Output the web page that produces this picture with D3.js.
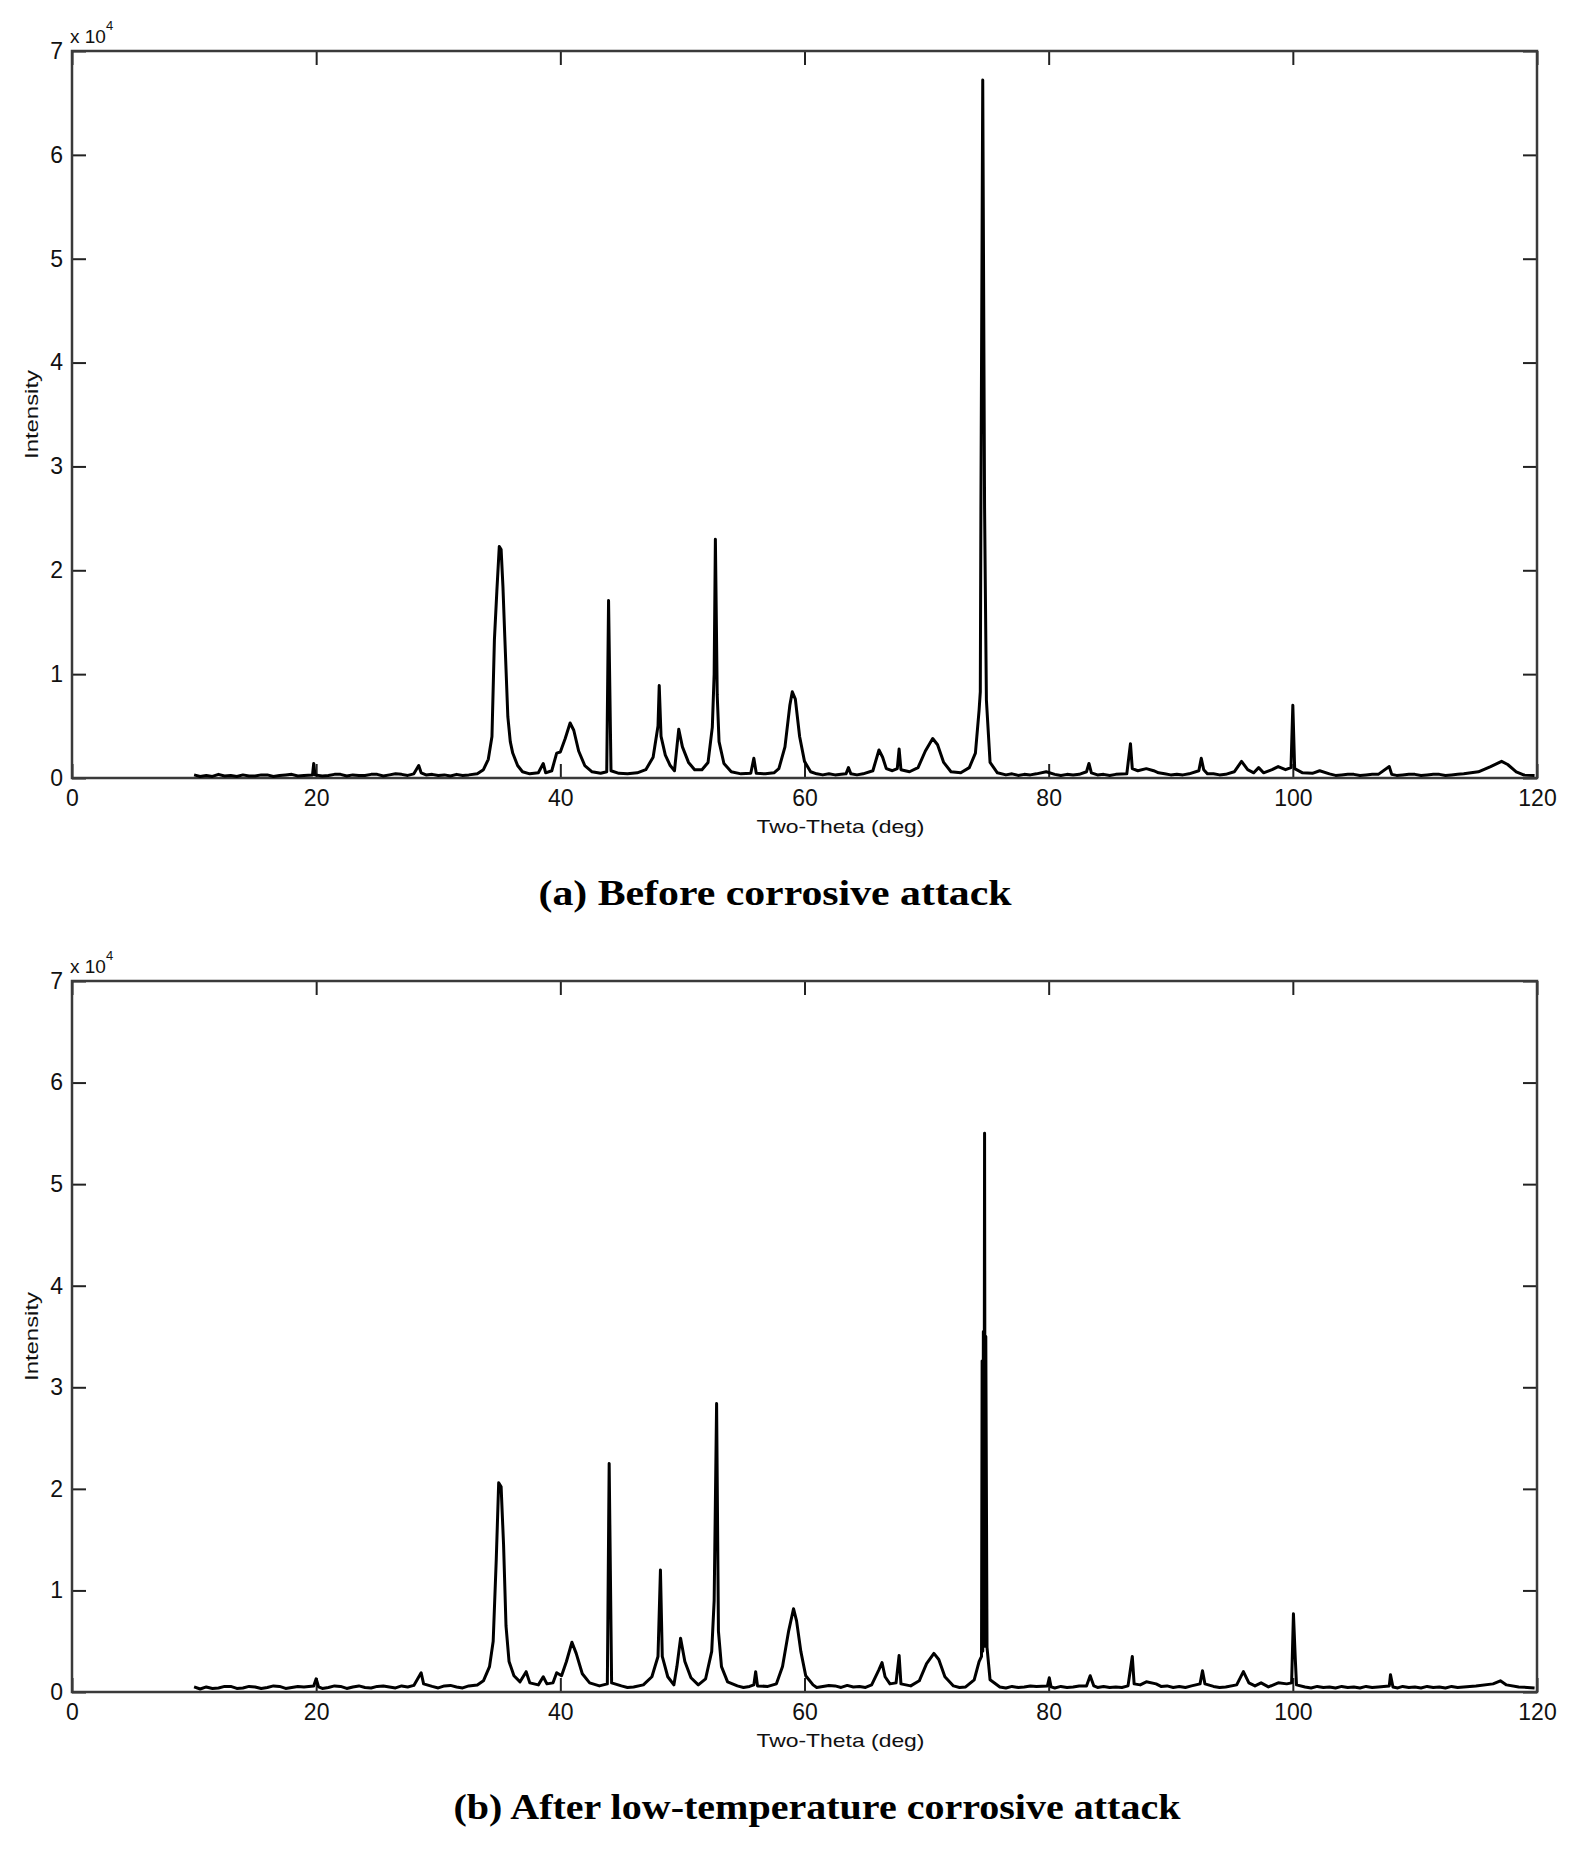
<!DOCTYPE html>
<html>
<head>
<meta charset="utf-8">
<script src="https://cdn.jsdelivr.net/npm/d3@7"></script>
<style>
    body { margin: 0; background: #fff; }
    svg { display: block; }
</style>
</head>
<body>
<div id="chart"></div>
<script>
// Axis ticks (two-theta in deg, intensity in counts)
const xTicks = [0, 20, 40, 60, 80, 100, 120];
const yTicks = [0, 10000, 20000, 30000, 40000, 50000, 60000, 70000];

const captions = ["(a) Before corrosive attack", "(b) After low-temperature corrosive attack"];

// (a) Before corrosive attack: [two-theta, intensity]
const patternBefore = [
    [10, 300], [10.5, 150], [11, 250], [11.5, 150], [12, 350], [12.5, 200], [13, 250], [13.5, 150], [14, 300], [14.5, 200],
    [15, 200], [15.5, 300], [16, 300], [16.5, 150], [17, 250], [17.5, 300], [18, 350], [18.5, 200], [19, 250], [19.7, 300],
    [19.8, 1400], [19.9, 300], [20.5, 200], [21, 250], [21.5, 350], [22, 350], [22.5, 200], [23, 300], [23.5, 250], [24, 250],
    [24.5, 350], [25, 350], [25.5, 200], [26, 300], [26.5, 400], [27, 350], [27.5, 250], [28, 400], [28.4, 1200], [28.6, 500],
    [29, 300], [29.5, 350], [30, 250], [30.5, 300], [31, 200], [31.5, 350], [32, 250], [32.5, 300], [33.2, 400], [33.7, 800],
    [34.1, 1800], [34.4, 4000], [34.6, 13300], [34.8, 18000], [35.0, 22300], [35.15, 22000], [35.3, 18400], [35.45, 13600],
    [35.7, 5900], [35.9, 3500], [36.1, 2400], [36.5, 1200], [36.9, 600], [37.5, 400], [38.2, 500], [38.6, 1400], [38.8, 500],
    [39.3, 700], [39.7, 2400], [40.0, 2500], [40.4, 3800], [40.8, 5300], [41.1, 4600], [41.5, 2600], [42.0, 1200], [42.6, 600],
    [43.3, 450], [43.8, 600], [43.95, 17100], [44.15, 700], [44.8, 450], [45.5, 400], [46.3, 500], [47.0, 800], [47.6, 2000],
    [48.0, 5000], [48.1, 8900], [48.25, 4000], [48.6, 2200], [49.0, 1200], [49.35, 700], [49.55, 3000], [49.7, 4700],
    [50.0, 3000], [50.5, 1500], [51.0, 800], [51.6, 800], [52.1, 1500], [52.45, 4900], [52.6, 10000], [52.7, 23000],
    [52.85, 8000], [53.0, 3500], [53.4, 1400], [54.0, 600], [54.8, 400], [55.6, 450], [55.85, 1900], [56.05, 450], [56.8, 400],
    [57.5, 500], [57.9, 900], [58.4, 3000], [58.8, 7000], [59.0, 8300], [59.25, 7600], [59.6, 4000], [60.0, 1600], [60.5, 600],
    [61, 400], [61.5, 300], [62, 400], [62.5, 300], [63, 350], [63.4, 400], [63.6, 1000], [63.8, 400], [64.3, 300], [64.8, 400],
    [65.6, 700], [66.1, 2700], [66.4, 2000], [66.7, 900], [67.2, 700], [67.6, 900], [67.75, 2800], [67.9, 800], [68.6, 600],
    [69.3, 1000], [69.9, 2600], [70.5, 3800], [70.9, 3200], [71.4, 1500], [72.0, 600], [72.8, 500], [73.5, 1000], [74.0, 2400],
    [74.3, 6500], [74.4, 8300], [74.45, 26000], [74.6, 67200], [74.75, 26000], [74.9, 7500], [75.2, 1500], [75.8, 500],
    [76.5, 300], [77, 400], [77.5, 250], [78, 350], [78.5, 300], [79, 400], [79.8, 600], [80.5, 350], [81, 250], [81.5, 350],
    [82, 300], [82.5, 350], [83.1, 600], [83.3, 1400], [83.5, 500], [84, 300], [84.5, 350], [85, 250], [85.5, 350], [86.4, 400],
    [86.7, 3300], [86.85, 900], [87.3, 700], [88.0, 900], [88.6, 700], [89, 500], [89.5, 400], [90, 300], [90.5, 350],
    [91, 300], [91.5, 400], [92.3, 700], [92.5, 1900], [92.7, 800], [93, 400], [93.5, 400], [94, 300], [94.5, 350], [95.2, 600],
    [95.8, 1600], [96.3, 800], [96.8, 500], [97.2, 1000], [97.6, 500], [98.3, 800], [98.8, 1100], [99.4, 800], [99.85, 1000],
    [100.0, 7000], [100.15, 900], [100.8, 500], [101.6, 450], [102.2, 700], [103, 400], [103.5, 250], [104, 300], [104.5, 350],
    [105, 350], [105.5, 250], [106, 300], [106.5, 350], [107, 350], [107.9, 1100], [108.1, 350], [108.5, 250], [109, 300],
    [109.5, 350], [110, 350], [110.5, 250], [111, 300], [111.5, 350], [112, 350], [112.5, 250], [113, 300], [113.5, 350],
    [114, 400], [115.2, 600], [116.2, 1100], [117.1, 1600], [117.6, 1300], [118.3, 600], [118.9, 300], [119.8, 250]
];

// (b) After low-temperature corrosive attack
const patternAfter = [
    [10, 500], [10.5, 300], [11, 500], [11.5, 350], [12, 400], [12.5, 550], [13, 550], [13.5, 350], [14, 400], [14.5, 550],
    [15, 500], [15.5, 350], [16, 450], [16.5, 600], [17, 550], [17.5, 350], [18, 450], [18.5, 550], [19, 500], [19.8, 600],
    [20.0, 1300], [20.2, 500], [20.5, 350], [21, 450], [21.5, 600], [22, 550], [22.5, 350], [23, 500], [23.5, 600], [24, 450],
    [24.5, 400], [25, 550], [25.5, 600], [26, 500], [26.5, 400], [27, 600], [27.5, 500], [28, 650], [28.6, 1900], [28.8, 800],
    [29.5, 550], [30, 400], [30.5, 600], [31, 650], [31.5, 500], [32, 400], [32.5, 600], [33.2, 700], [33.7, 1100],
    [34.2, 2500], [34.5, 5000], [34.75, 13000], [34.95, 20600], [35.15, 20200], [35.35, 14500], [35.55, 6500], [35.8, 3000],
    [36.2, 1600], [36.7, 1000], [37.2, 2000], [37.5, 900], [38.2, 700], [38.6, 1500], [38.9, 800], [39.4, 900], [39.7, 1900],
    [40.1, 1600], [40.5, 3000], [40.95, 4900], [41.3, 3800], [41.8, 1800], [42.4, 900], [43.2, 600], [43.85, 800],
    [44.0, 22500], [44.2, 900], [45, 600], [45.5, 450], [46, 500], [46.8, 700], [47.5, 1500], [48.0, 3500], [48.2, 12000],
    [48.35, 3500], [48.8, 1500], [49.3, 700], [49.55, 2500], [49.85, 5300], [50.2, 3000], [50.7, 1400], [51.3, 700],
    [51.9, 1300], [52.4, 4000], [52.6, 9000], [52.8, 28400], [52.95, 6000], [53.2, 2500], [53.7, 1000], [54.5, 600],
    [55, 450], [55.5, 550], [55.85, 700], [56.0, 2000], [56.15, 600], [57, 550], [57.7, 800], [58.2, 2500], [58.7, 6000],
    [59.1, 8200], [59.35, 7000], [59.7, 4000], [60.1, 1600], [60.7, 700], [61, 450], [61.5, 550], [62, 650], [62.5, 600],
    [63, 450], [63.5, 650], [64, 500], [64.5, 550], [65, 450], [65.5, 700], [66.1, 2200], [66.35, 2900], [66.6, 1500],
    [67.0, 800], [67.5, 900], [67.75, 3600], [67.9, 800], [68.7, 600], [69.4, 1100], [70.0, 2800], [70.6, 3800], [71.0, 3200],
    [71.5, 1500], [72.2, 600], [72.7, 450], [73.2, 500], [73.9, 1200], [74.3, 3000], [74.5, 3500], [74.55, 32600],
    [74.6, 4000], [74.65, 35500], [74.7, 5000], [74.75, 55000], [74.8, 4500], [74.85, 35000], [74.95, 4400], [75.2, 1200],
    [76, 500], [76.5, 400], [77, 550], [77.5, 450], [78, 500],
    [78.5, 600], [79, 550], [79.9, 600], [80.05, 1400], [80.2, 500], [80.5, 400], [81, 550], [81.5, 450], [82, 500],
    [82.5, 600], [83.1, 600], [83.4, 1600], [83.7, 600], [84, 450], [84.5, 550], [85, 450], [85.5, 500], [86, 450],
    [86.5, 600], [86.85, 3500], [87.0, 800], [87.5, 700], [88.0, 1000], [88.8, 800], [89.2, 550], [89.7, 600], [90.2, 450],
    [90.7, 550], [91.2, 450], [91.7, 600], [92.4, 800], [92.6, 2100], [92.8, 800], [93.5, 550], [94, 450], [94.5, 500],
    [95.4, 700], [95.95, 2000], [96.4, 900], [96.9, 600], [97.4, 900], [98, 500], [98.8, 900], [99.5, 800], [99.9, 900],
    [100.05, 7700], [100.2, 3300], [100.3, 700], [101, 500], [101.5, 400], [102, 550], [102.5, 450], [103, 500], [103.5, 400],
    [104, 550], [104.5, 450], [105, 500], [105.5, 400], [106, 550], [106.5, 450], [107, 500], [107.9, 600], [108.0, 1700],
    [108.2, 500], [108.6, 400], [109, 550], [109.5, 450], [110, 500], [110.5, 400], [111, 550], [111.5, 450], [112, 500],
    [112.5, 400], [113, 550], [113.5, 450], [114, 500], [115, 600], [116.4, 800], [117.0, 1100], [117.5, 700], [118.5, 500],
    [119.2, 450], [119.8, 400]
];

// Layout (pixels)
const width = 1571;
const height = 1851;
const panels = [
    { data: patternBefore, caption: captions[0], top: 51, bottom: 778, captionY: 905, captionX: 775, captionLen: 473 },
    { data: patternAfter, caption: captions[1], top: 981, bottom: 1692, captionY: 1819, captionX: 817, captionLen: 727 }
];
const plotLeft = 72;
const plotRight = 1537;

const sansFont = "'Liberation Sans', Arial, Helvetica, sans-serif";
const serifFont = "'Liberation Serif', 'Times New Roman', serif";

const svg = d3.select("#chart").append("svg")
    .attr("width", width)
    .attr("height", height)
    .style("background", "#fff");

panels.forEach(p => renderPanel(p));

function renderPanel(p) {
    const x = d3.scaleLinear().domain([0, 120]).range([plotLeft, plotRight]);
    const y = d3.scaleLinear().domain([0, 70000]).range([p.bottom, p.top]);

    const g = svg.append("g");
    const tickLen = 14;

    // bottom axis with labels, ticks pointing inward
    const bottomAxis = g.append("g")
        .attr("transform", `translate(0,${p.bottom})`)
        .call(d3.axisBottom(x).tickValues(xTicks).tickSizeInner(-tickLen).tickSizeOuter(0).tickPadding(12));

    // top axis, ticks only
    const topAxis = g.append("g")
        .attr("transform", `translate(0,${p.top})`)
        .call(d3.axisTop(x).tickValues(xTicks).tickSizeInner(-tickLen).tickSizeOuter(0).tickFormat(""));

    // left axis, mantissa only (x 10^4 shown above)
    const leftAxis = g.append("g")
        .attr("transform", `translate(${plotLeft},0)`)
        .call(d3.axisLeft(y).tickValues(yTicks).tickSizeInner(-tickLen).tickSizeOuter(0).tickPadding(9)
            .tickFormat(d => d / 10000));

    const rightAxis = g.append("g")
        .attr("transform", `translate(${plotRight},0)`)
        .call(d3.axisRight(y).tickValues(yTicks).tickSizeInner(-tickLen).tickSizeOuter(0).tickFormat(""));

    [bottomAxis, topAxis, leftAxis, rightAxis].forEach(a => {
        a.select(".domain").remove();
        a.selectAll("line").attr("stroke", "#222").attr("stroke-width", 2);
        a.selectAll("text")
            .style("font-family", sansFont)
            .style("font-size", "23px")
            .attr("fill", "#111");
    });

    // box
    g.append("rect")
        .attr("x", plotLeft)
        .attr("y", p.top)
        .attr("width", plotRight - plotLeft)
        .attr("height", p.bottom - p.top)
        .attr("fill", "none")
        .attr("stroke", "#3a3a3a")
        .attr("stroke-width", 2.5);

    // pattern line
    const line = d3.line()
        .x(d => x(d[0]))
        .y(d => y(d[1]));

    g.append("path")
        .datum(p.data)
        .attr("fill", "none")
        .attr("stroke", "#000")
        .attr("stroke-width", 3)
        .attr("stroke-linejoin", "round")
        .attr("d", line);

    // exponent label
    const expo = g.append("text")
        .attr("x", plotLeft - 2)
        .attr("y", p.top - 8)
        .style("font-family", sansFont)
        .style("font-size", "19px")
        .attr("fill", "#111")
        .text("x 10");
    expo.append("tspan")
        .attr("dy", -13)
        .style("font-size", "13px")
        .text("4");

    // axis titles
    g.append("text")
        .attr("x", (plotLeft + plotRight) / 2 + 36)
        .attr("y", p.bottom + 55)
        .attr("text-anchor", "middle")
        .attr("textLength", 168)
        .attr("lengthAdjust", "spacingAndGlyphs")
        .style("font-family", sansFont)
        .style("font-size", "19px")
        .attr("fill", "#111")
        .text("Two-Theta (deg)");

    g.append("text")
        .attr("transform", `translate(38,${(p.top + p.bottom) / 2}) rotate(-90)`)
        .attr("text-anchor", "middle")
        .attr("textLength", 89)
        .attr("lengthAdjust", "spacingAndGlyphs")
        .style("font-family", sansFont)
        .style("font-size", "19px")
        .attr("fill", "#111")
        .text("Intensity");

    // caption
    g.append("text")
        .attr("x", p.captionX)
        .attr("y", p.captionY)
        .attr("text-anchor", "middle")
        .attr("textLength", p.captionLen)
        .attr("lengthAdjust", "spacingAndGlyphs")
        .style("font-family", serifFont)
        .style("font-weight", "bold")
        .style("font-size", "36px")
        .attr("fill", "#000")
        .text(p.caption);
}
</script>
</body>
</html>
